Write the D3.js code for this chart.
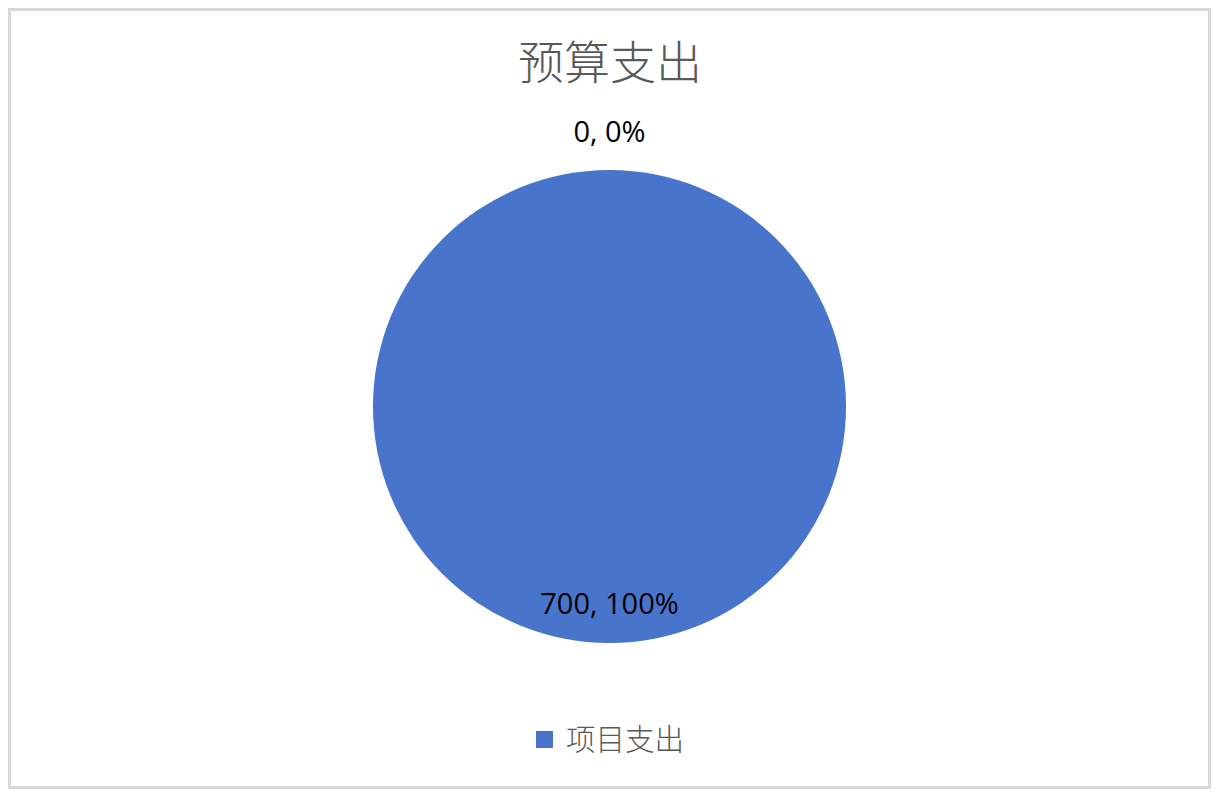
<!DOCTYPE html>
<html><head><meta charset="utf-8">
<script src="https://cdn.jsdelivr.net/npm/d3@7"></script>
<style>html,body{margin:0;padding:0;background:#fff;}</style>
</head><body>
<svg id="chart" width="1221" height="798"></svg>
<script>
const title = "预算支出";
const categories = ["项目支出", ""];
const values = [700, 0];
const colors = ["#4874CB", "#EE822F"];

const svg = d3.select("#chart");

svg.append("rect").attr("x", 9.5).attr("y", 9.5).attr("width", 1200).attr("height", 778)
  .attr("fill", "#fff").attr("stroke", "#d9d9d9").attr("stroke-width", 3);

svg.append("text").attr("x", 610).attr("y", 79).attr("text-anchor", "middle")
  .attr("font-family", "'Noto Sans CJK SC', sans-serif").attr("font-size", 46)
  .attr("font-weight", 300)
  .attr("fill", "#595959").text(title);

const cx = 609.5, cy = 406.5, r = 236.5;
const total = d3.sum(values);
const pie = d3.pie().sort(null).value(d => d)(values);
const arc = d3.arc().innerRadius(0).outerRadius(r);
const g = svg.append("g").attr("transform", `translate(${cx},${cy})`);
g.selectAll("path").data(pie).enter().append("path")
  .attr("d", arc).attr("fill", (d, i) => colors[i]);

const fmt = v => `${v}, ${Math.round(v / total * 100)}%`;
pie.forEach((d, i) => {
  const a = (d.startAngle + d.endAngle) / 2;
  const zero = d.value === 0;
  const rr = zero ? r + 38 : r * 0.835;
  const x = Math.sin(a) * rr, y = -Math.cos(a) * rr;
  g.append("text").attr("x", x).attr("y", y).attr("dy", "0.35em")
    .attr("text-anchor", "middle")
    .attr("font-family", "'Open Sans', 'Liberation Sans', sans-serif").attr("font-size", 29)
    .attr("fill", "#000").text(fmt(values[i]));
});

// legend (named categories only)
const named = categories.map((c, i) => ({c, i})).filter(d => d.c);
const lg = svg.append("g").attr("transform", "translate(536,731)");
named.forEach((d, k) => {
  lg.append("rect").attr("x", 0).attr("y", 0).attr("width", 17).attr("height", 17).attr("fill", colors[d.i]);
  lg.append("text").attr("x", 30).attr("y", 8.5).attr("dy", "0.36em")
    .attr("font-family", "'Noto Sans CJK SC', sans-serif").attr("font-size", 29.5).attr("font-weight", 300)
    .attr("fill", "#595959").text(d.c);
});
</script>
</body></html>
